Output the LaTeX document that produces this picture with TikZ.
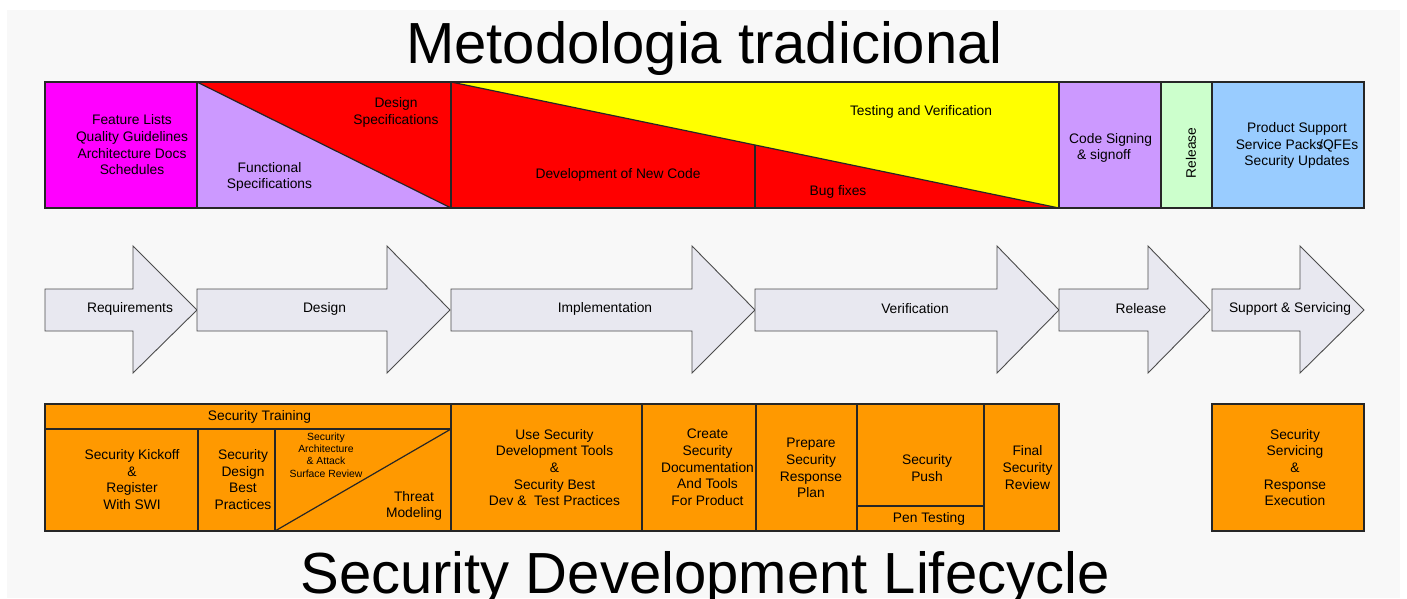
\documentclass[tikz,border=0pt]{standalone}
\usepackage{fontspec}
\setmainfont{Liberation Sans}

\definecolor{bgpaper}{HTML}{F8F8F8}
\definecolor{magentabox}{HTML}{FF00FF}
\definecolor{lilacbox}{HTML}{CC99FF}
\definecolor{redbox}{HTML}{FF0000}
\definecolor{yellowbox}{HTML}{FFFF00}
\definecolor{mintbox}{HTML}{CCFFCC}
\definecolor{skybox}{HTML}{99CCFF}
\definecolor{orangebox}{HTML}{FF9900}
\definecolor{phasegray}{HTML}{E8E8F0}

\tikzset{
	cellline/.style={draw=black!85,line width=1.2pt},
	phasearrow/.style={draw=black!70,fill=phasegray,line width=0.9pt,line join=miter},
	lbl/.style={font=\fontsize{13.8}{16.7}\selectfont,align=center,inner sep=0pt},
	tinylbl/.style={font=\fontsize{10.4}{12.4}\selectfont,align=center,inner sep=0pt},
	headline/.style={font=\fontsize{58}{60}\selectfont,anchor=base,inner sep=0pt}
}

\begin{document}
\begin{tikzpicture}[x=1pt,y=-1pt]
	\useasboundingbox (0,0) rectangle (1407,598);
	\fill[white] (0,0) rectangle (1407,598);
	\fill[bgpaper] (7,10) rectangle (1400,598);

	\node[headline] (title) at (704.5,63.3) {Metodologia tradicional};

	% traditional phases
	\fill[magentabox] (45,82) rectangle (197,208);
	\fill[lilacbox] (197,82) -- (451,208) -- (197,208) -- cycle;
	\fill[redbox] (197,82) -- (451,82) -- (451,208) -- cycle;
	\fill[redbox] (451,82) -- (1059,208) -- (451,208) -- cycle;
	\fill[yellowbox] (451,82) -- (1059,82) -- (1059,208) -- cycle;
	\fill[lilacbox] (1059,82) rectangle (1161,208);
	\fill[mintbox] (1161,82) rectangle (1212,208);
	\fill[skybox] (1212,82) rectangle (1364,208);
	\draw[cellline] (45,82) rectangle (1364,208);
	\foreach \x in {197,451,1059,1161,1212}
		\draw[cellline] (\x,82) -- (\x,208);
	\draw[cellline] (197,82) -- (451,208);
	\draw[cellline] (451,82) -- (1059,208);
	\draw[cellline] (755,145.3) -- (755,208);

	\node[lbl] (feat) at (132,145) {Feature Lists\\Quality Guidelines\\Architecture Docs\\Schedules};
	\node[lbl] (func) at (269.5,177) {Functional\\Specifications};
	\node[lbl] (dspec) at (396,112.5) {Design\\Specifications};
	\node[lbl] (newcode) at (618,175) {Development of New Code};
	\node[lbl] (bugs) at (838,192) {Bug fixes};
	\node[lbl] (testver) at (921,112) {Testing and Verification};
	\node[lbl,anchor=west,align=left] (signing) at (1069,148) {Code Signing\\\hspace{8pt}\& signoff};
	\node[lbl,rotate=90] (relbox) at (1191,153) {Release};
	\node[lbl] (prodsup) at (1297,145.5) {Product Support\\Service Packs\kern-4pt/QFEs\\Security Updates};

	% SDL phases
	\foreach \xs/\xb/\xt/\xl/\nm/\txt in {45/133/197/130/req/Requirements,
		197/387/450/324.5/des/Design,
		451/692/755/605/impl/Implementation,
		755/997/1059/915/ver/Verification,
		1059/1148/1210/1141/rel/Release,
		1212/1300/1364/1290/sup/Support \& Servicing}{
		\draw[phasearrow] (\xs,289) -- (\xb,289) -- (\xb,246) -- (\xt,310)
			-- (\xb,373) -- (\xb,331) -- (\xs,331) -- cycle;
		\node[lbl] (\nm) at (\xl,309) {\txt};
	}

	% security activities
	\fill[orangebox] (45,404) rectangle (1059,531);
	\fill[orangebox] (1212,404) rectangle (1364,531);
	\draw[cellline] (45,404) rectangle (451,429);
	\draw[cellline] (45,429) rectangle (198,531);
	\draw[cellline] (198,429) rectangle (275,531);
	\draw[cellline] (275,429) rectangle (451,531);
	\draw[cellline] (275,531) -- (451,429);
	\draw[cellline] (451,404) rectangle (642,531);
	\draw[cellline] (642,404) rectangle (756,531);
	\draw[cellline] (756,404) rectangle (857,531);
	\draw[cellline] (857,404) rectangle (984,506);
	\draw[cellline] (857,506) rectangle (984,531);
	\draw[cellline] (984,404) rectangle (1059,531);
	\draw[cellline] (1212,404) rectangle (1364,531);

	\node[lbl] (training) at (259.5,416.5) {Security Training};
	\node[lbl] (kickoff) at (132,479.5) {Security Kickoff\\\&\\Register\\With SWI};
	\node[lbl] (dbest) at (243,479.5) {Security\\Design\\Best\\Practices};
	\node[tinylbl] (attack) at (326,455) {Security\\Architecture\\\& Attack\\Surface Review};
	\node[lbl] (threat) at (414,506) {Threat\\Modeling};
	\node[lbl] (tools) at (554.5,467.5) {Use Security\\Development Tools\\\&\\Security Best\\Dev \&\ \ Test Practices};
	\node[lbl] (docs) at (707.5,467.5) {Create\\Security\\Documentation\\And Tools\\For Product};
	\node[lbl] (respplan) at (811,468) {Prepare\\Security\\Response\\Plan};
	\node[lbl] (push) at (927,468) {Security\\Push};
	\node[lbl] (pentest) at (929,518.5) {Pen Testing};
	\node[lbl] (fsr) at (1027.5,467.5) {Final\\Security\\Review};
	\node[lbl] (servicing) at (1295,467.5) {Security\\Servicing\\\&\\Response\\Execution};

	\node[headline] (subtitle) at (705,593) {Security Development Lifecycle};
\end{tikzpicture}
\end{document}
